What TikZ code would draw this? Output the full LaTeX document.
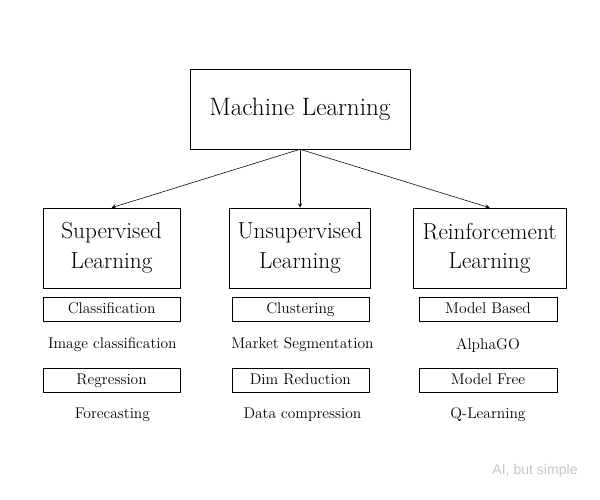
\documentclass[tikz,border=0pt]{standalone}
\usepackage{fontspec}
\newfontfamily\marksans{Liberation Sans}
\tikzset{
  bigbox/.style={draw,thin,align=center,font=\fontsize{16.5}{21}\selectfont},
  subbox/.style={draw,thin,minimum height=0.6cm,inner sep=0pt,text height=8.5pt,text depth=2.5pt,font=\fontsize{11}{13}\selectfont},
  example/.style={font=\fontsize{11}{13}\selectfont}
}
\begin{document}
\begin{tikzpicture}
        \useasboundingbox (0,0) rectangle (15,12.5);
        \node[bigbox,minimum width=5.5cm,minimum height=2cm,font=\fontsize{17.9}{21}\selectfont] (ml) at (7.5,9.775) {Machine Learning};
        \node[bigbox,minimum width=3.425cm,minimum height=2cm] (sup) at (2.79,6.3) {Supervised\\Learning};
        \node[bigbox,minimum width=3.525cm,minimum height=2cm] (unsup) at (7.5,6.3) {Unsupervised\\Learning};
        \node[bigbox,minimum width=3.825cm,minimum height=2cm] (rl) at (12.24,6.3) {Reinforcement\\Learning};
        \draw[-stealth] (ml.south) -- (sup.north);
        \draw[-stealth] (ml.south) -- (unsup.north);
        \draw[-stealth] (ml.south) -- (rl.north);
        \node[subbox,minimum width=3.425cm] (cls) at (2.79,4.775) {Classification};
        \node[subbox,minimum width=3.425cm] (clu) at (7.51,4.775) {Clustering};
        \node[subbox,minimum width=3.45cm] (mb) at (12.2,4.775) {Model Based};
        \node[example] (imgcls) at (2.81,3.875) {Image classification};
        \node[example] (market) at (7.56,3.875) {Market Segmentation};
        \node[example] (alpha) at (12.2,3.875) {AlphaGO};
        \node[subbox,minimum width=3.425cm] (reg) at (2.79,3.0) {Regression};
        \node[subbox,minimum width=3.425cm] (dim) at (7.51,3.0) {Dim Reduction};
        \node[subbox,minimum width=3.45cm] (mf) at (12.2,3.0) {Model Free};
        \node[example] (fore) at (2.81,2.125) {Forecasting};
        \node[example] (comp) at (7.56,2.125) {Data compression};
        \node[example] (qlearn) at (12.2,2.125) {Q-Learning};
        \node[font=\marksans\fontsize{10}{12}\selectfont,text=black!22] (mark) at (13.375,0.725) {AI, but simple};
\end{tikzpicture}
\end{document}
